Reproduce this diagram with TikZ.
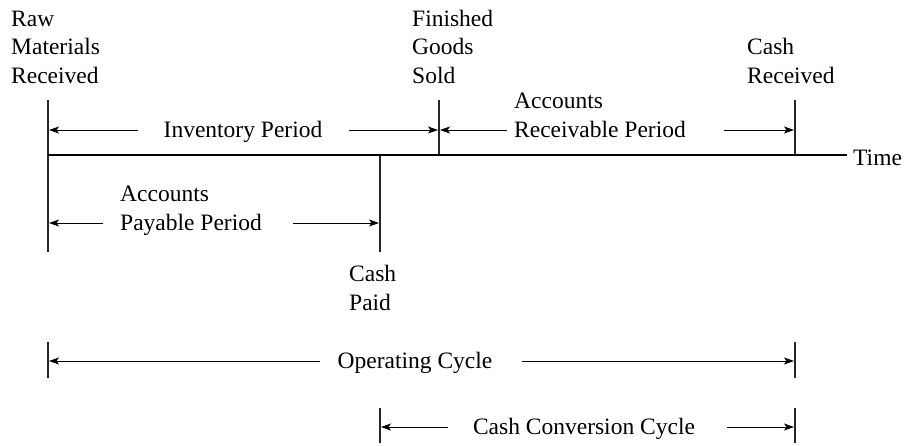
\documentclass[tikz,border=0pt]{standalone}
\usepackage{fontspec}
\setmainfont{Liberation Serif}
\usetikzlibrary{arrows.meta}
\begin{document}
\begin{tikzpicture}[x=1pt,y=-1pt,
  lbl/.style={font=\fontsize{23.5}{28.5}\selectfont, inner sep=0pt, align=left, anchor=base west},
  tick/.style={line width=1.3pt, draw=black!85},
  dim/.style={line width=0.9pt, -{Stealth[length=10pt,width=7pt,inset=2.5pt]}}]
\useasboundingbox (0,0) rectangle (908,445);
% event coordinates
\coordinate (Ltop) at (48,100);
\coordinate (Lbot) at (48,252);
\coordinate (T0) at (48,155);
\coordinate (T1) at (847,155);
\coordinate (Ftop) at (439,100);
\coordinate (Fbot) at (439,155);
\coordinate (Rtop) at (795,100);
\coordinate (Rbot) at (795,155);
\coordinate (Ptop) at (380,155);
\coordinate (Pbot) at (380,252);
% vertical event lines and time line
\draw[tick] (Ltop) -- (Lbot);
\draw[tick] (Ftop) -- (Fbot);
\draw[tick] (Rtop) -- (Rbot);
\draw[tick] (Ptop) -- (Pbot);
\draw[line width=1.2pt] (T0) -- (T1);
% labels (base anchor = baseline of last line)
\node[lbl] (raw) at (11,83) {Raw\\Materials\\Received};
\node[lbl] (fgs) at (412,83) {Finished\\Goods\\Sold};
\node[lbl] (cr) at (747,83) {Cash\\Received};
\node[lbl] (time) at (853,165) {Time};
\node[lbl, anchor=base] (inv) at (243,137) {Inventory Period};
\node[lbl] (ar) at (514,137) {Accounts\\Receivable Period};
\node[lbl] (ap) at (120,230) {Accounts\\Payable Period};
\node[lbl] (cp) at (349,310) {Cash\\Paid};
\node[lbl, anchor=base] (oc) at (415,368) {Operating Cycle};
\node[lbl, anchor=base] (ccc) at (584,434) {Cash Conversion Cycle};
% inventory period
\coordinate (invA) at (138,130); \coordinate (invAe) at (49,130);
\coordinate (invB) at (349,130); \coordinate (invBe) at (438,130);
\draw[dim] (invA) -- (invAe);
\draw[dim] (invB) -- (invBe);
% receivable period
\coordinate (arA) at (507,130); \coordinate (arAe) at (440,130);
\coordinate (arB) at (724,130); \coordinate (arBe) at (794,130);
\draw[dim] (arA) -- (arAe);
\draw[dim] (arB) -- (arBe);
% payable period
\coordinate (apA) at (103,223); \coordinate (apAe) at (49,223);
\coordinate (apB) at (293,223); \coordinate (apBe) at (379,223);
\draw[dim] (apA) -- (apAe);
\draw[dim] (apB) -- (apBe);
% operating cycle
\coordinate (ocL1) at (48,342); \coordinate (ocL2) at (48,378);
\coordinate (ocR1) at (795,342); \coordinate (ocR2) at (795,378);
\draw[tick] (ocL1) -- (ocL2);
\draw[tick] (ocR1) -- (ocR2);
\coordinate (ocA) at (320,361); \coordinate (ocAe) at (49,361);
\coordinate (ocB) at (522,361); \coordinate (ocBe) at (794,361);
\draw[dim] (ocA) -- (ocAe);
\draw[dim] (ocB) -- (ocBe);
% cash conversion cycle
\coordinate (ccL1) at (380,408); \coordinate (ccL2) at (380,443);
\coordinate (ccR1) at (795,408); \coordinate (ccR2) at (795,443);
\draw[tick] (ccL1) -- (ccL2);
\draw[tick] (ccR1) -- (ccR2);
\coordinate (ccA) at (448,427); \coordinate (ccAe) at (381,427);
\coordinate (ccB) at (727,427); \coordinate (ccBe) at (794,427);
\draw[dim] (ccA) -- (ccAe);
\draw[dim] (ccB) -- (ccBe);
\end{tikzpicture}
\end{document}
